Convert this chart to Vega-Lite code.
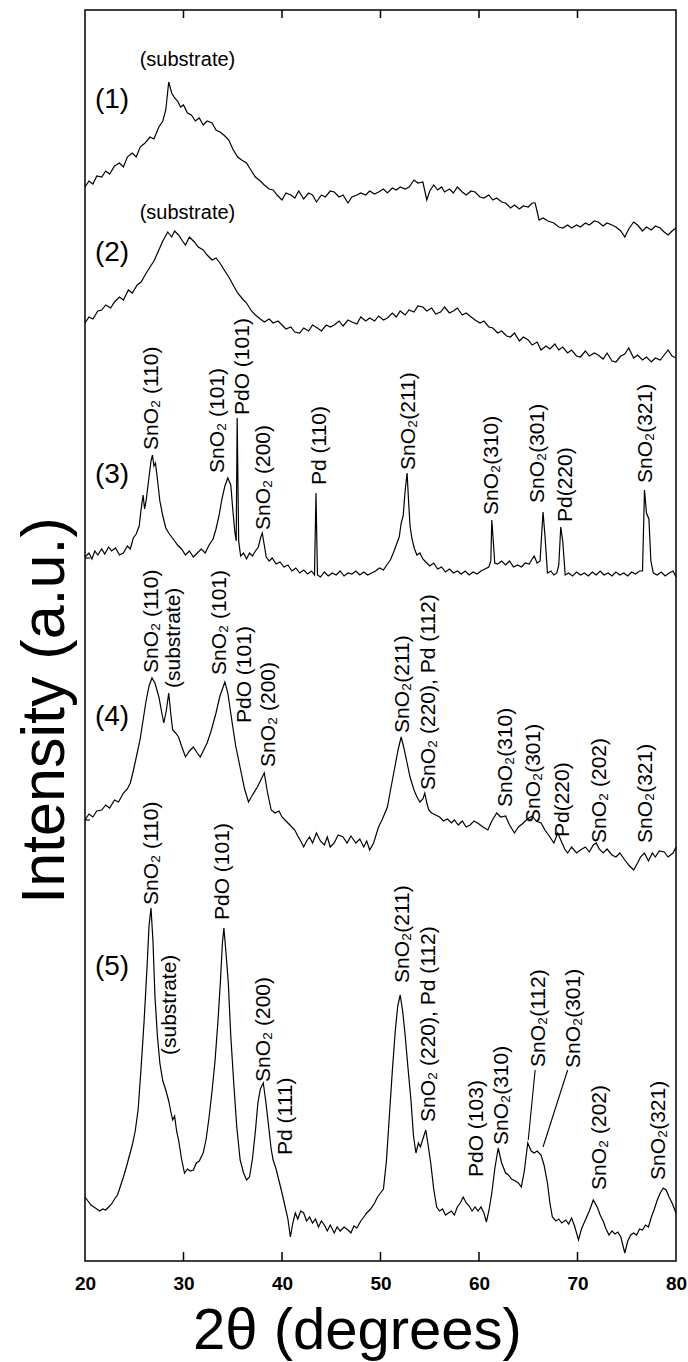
{
  "$schema": "https://vega.github.io/schema/vega-lite/v6.json",
  "width": 591,
  "height": 1251,
  "autosize": {"type": "none"},
  "padding": {"left": 85, "top": 10, "right": 12, "bottom": 101},
  "background": "white",
  "config": {
    "view": {"stroke": "black", "strokeWidth": 1.5},
    "font": "Liberation Sans"
  },
  "datasets": {
    "curves": [
      {"s":1,"x":20.0,"y":1074},{"s":1,"x":20.4,"y":1080},{"s":1,"x":20.8,"y":1077},{"s":1,"x":21.2,"y":1085},{"s":1,"x":21.7,"y":1084},{"s":1,"x":22.1,"y":1090},{"s":1,"x":22.5,"y":1087},{"s":1,"x":23.0,"y":1095},{"s":1,"x":23.5,"y":1098},{"s":1,"x":23.9,"y":1094},{"s":1,"x":24.3,"y":1104},{"s":1,"x":24.8,"y":1108},{"s":1,"x":25.2,"y":1104},{"s":1,"x":25.6,"y":1114},{"s":1,"x":26.1,"y":1118},{"s":1,"x":26.6,"y":1124},{"s":1,"x":27.0,"y":1122},{"s":1,"x":27.5,"y":1134},{"s":1,"x":27.9,"y":1140},{"s":1,"x":28.2,"y":1151},{"s":1,"x":28.5,"y":1179},{"s":1,"x":28.8,"y":1168},{"s":1,"x":29.1,"y":1163},{"s":1,"x":29.4,"y":1160},{"s":1,"x":29.7,"y":1154},{"s":1,"x":30.0,"y":1156},{"s":1,"x":30.4,"y":1148},{"s":1,"x":30.8,"y":1146},{"s":1,"x":31.2,"y":1140},{"s":1,"x":31.6,"y":1143},{"s":1,"x":32.0,"y":1136},{"s":1,"x":32.4,"y":1140},{"s":1,"x":32.9,"y":1138},{"s":1,"x":33.3,"y":1131},{"s":1,"x":33.7,"y":1129},{"s":1,"x":34.1,"y":1126},{"s":1,"x":34.6,"y":1121},{"s":1,"x":35.0,"y":1112},{"s":1,"x":35.5,"y":1104},{"s":1,"x":35.9,"y":1101},{"s":1,"x":36.4,"y":1098},{"s":1,"x":36.9,"y":1090},{"s":1,"x":37.3,"y":1084},{"s":1,"x":37.8,"y":1080},{"s":1,"x":38.2,"y":1076},{"s":1,"x":38.7,"y":1072},{"s":1,"x":39.1,"y":1071},{"s":1,"x":39.5,"y":1066},{"s":1,"x":40.0,"y":1061},{"s":1,"x":40.4,"y":1068},{"s":1,"x":40.9,"y":1066},{"s":1,"x":41.3,"y":1063},{"s":1,"x":41.7,"y":1070},{"s":1,"x":42.2,"y":1062},{"s":1,"x":42.7,"y":1068},{"s":1,"x":43.1,"y":1066},{"s":1,"x":43.5,"y":1059},{"s":1,"x":44.0,"y":1066},{"s":1,"x":44.4,"y":1064},{"s":1,"x":44.9,"y":1070},{"s":1,"x":45.3,"y":1069},{"s":1,"x":45.8,"y":1064},{"s":1,"x":46.2,"y":1066},{"s":1,"x":46.7,"y":1058},{"s":1,"x":47.1,"y":1064},{"s":1,"x":47.6,"y":1066},{"s":1,"x":48.0,"y":1068},{"s":1,"x":48.5,"y":1066},{"s":1,"x":48.9,"y":1070},{"s":1,"x":49.4,"y":1067},{"s":1,"x":49.8,"y":1069},{"s":1,"x":50.3,"y":1072},{"s":1,"x":50.7,"y":1068},{"s":1,"x":51.2,"y":1073},{"s":1,"x":51.6,"y":1071},{"s":1,"x":52.0,"y":1074},{"s":1,"x":52.5,"y":1072},{"s":1,"x":52.9,"y":1074},{"s":1,"x":53.4,"y":1081},{"s":1,"x":53.8,"y":1078},{"s":1,"x":54.3,"y":1079},{"s":1,"x":54.7,"y":1061},{"s":1,"x":55.0,"y":1070},{"s":1,"x":55.4,"y":1076},{"s":1,"x":55.8,"y":1071},{"s":1,"x":56.2,"y":1074},{"s":1,"x":56.5,"y":1069},{"s":1,"x":57.0,"y":1072},{"s":1,"x":57.4,"y":1068},{"s":1,"x":57.8,"y":1074},{"s":1,"x":58.3,"y":1069},{"s":1,"x":58.7,"y":1066},{"s":1,"x":59.2,"y":1070},{"s":1,"x":59.6,"y":1069},{"s":1,"x":60.1,"y":1064},{"s":1,"x":60.5,"y":1063},{"s":1,"x":61.0,"y":1066},{"s":1,"x":61.4,"y":1061},{"s":1,"x":61.8,"y":1063},{"s":1,"x":62.3,"y":1059},{"s":1,"x":62.7,"y":1058},{"s":1,"x":63.2,"y":1053},{"s":1,"x":63.6,"y":1056},{"s":1,"x":64.1,"y":1052},{"s":1,"x":64.5,"y":1055},{"s":1,"x":65.0,"y":1054},{"s":1,"x":65.4,"y":1058},{"s":1,"x":65.7,"y":1058},{"s":1,"x":66.1,"y":1041},{"s":1,"x":66.5,"y":1043},{"s":1,"x":67.0,"y":1040},{"s":1,"x":67.6,"y":1038},{"s":1,"x":68.1,"y":1034},{"s":1,"x":68.5,"y":1033},{"s":1,"x":69.0,"y":1036},{"s":1,"x":69.4,"y":1033},{"s":1,"x":69.9,"y":1036},{"s":1,"x":70.3,"y":1034},{"s":1,"x":70.8,"y":1038},{"s":1,"x":71.2,"y":1036},{"s":1,"x":71.7,"y":1040},{"s":1,"x":72.1,"y":1039},{"s":1,"x":72.6,"y":1035},{"s":1,"x":73.0,"y":1038},{"s":1,"x":73.5,"y":1036},{"s":1,"x":73.9,"y":1034},{"s":1,"x":74.4,"y":1030},{"s":1,"x":74.8,"y":1024},{"s":1,"x":75.2,"y":1032},{"s":1,"x":75.7,"y":1039},{"s":1,"x":76.1,"y":1036},{"s":1,"x":76.6,"y":1030},{"s":1,"x":77.0,"y":1034},{"s":1,"x":77.5,"y":1031},{"s":1,"x":77.9,"y":1035},{"s":1,"x":78.4,"y":1033},{"s":1,"x":78.8,"y":1029},{"s":1,"x":79.2,"y":1026},{"s":1,"x":79.6,"y":1030},{"s":1,"x":80.0,"y":1033},

      {"s":2,"x":20.0,"y":938},{"s":2,"x":20.4,"y":944},{"s":2,"x":20.8,"y":942},{"s":2,"x":21.3,"y":950},{"s":2,"x":21.7,"y":951},{"s":2,"x":22.1,"y":956},{"s":2,"x":22.6,"y":953},{"s":2,"x":23.0,"y":959},{"s":2,"x":23.5,"y":964},{"s":2,"x":23.9,"y":961},{"s":2,"x":24.4,"y":971},{"s":2,"x":24.8,"y":968},{"s":2,"x":25.3,"y":976},{"s":2,"x":25.7,"y":979},{"s":2,"x":26.1,"y":986},{"s":2,"x":26.6,"y":994},{"s":2,"x":27.0,"y":1000},{"s":2,"x":27.5,"y":1011},{"s":2,"x":27.9,"y":1020},{"s":2,"x":28.4,"y":1029},{"s":2,"x":28.8,"y":1024},{"s":2,"x":29.1,"y":1030},{"s":2,"x":29.5,"y":1026},{"s":2,"x":29.9,"y":1020},{"s":2,"x":30.2,"y":1016},{"s":2,"x":30.6,"y":1024},{"s":2,"x":31.1,"y":1019},{"s":2,"x":31.5,"y":1014},{"s":2,"x":32.0,"y":1011},{"s":2,"x":32.4,"y":1006},{"s":2,"x":32.9,"y":1001},{"s":2,"x":33.3,"y":1003},{"s":2,"x":33.7,"y":998},{"s":2,"x":34.2,"y":990},{"s":2,"x":34.6,"y":984},{"s":2,"x":35.1,"y":975},{"s":2,"x":35.5,"y":968},{"s":2,"x":36.0,"y":962},{"s":2,"x":36.4,"y":958},{"s":2,"x":36.9,"y":950},{"s":2,"x":37.3,"y":946},{"s":2,"x":37.8,"y":942},{"s":2,"x":38.2,"y":939},{"s":2,"x":38.7,"y":942},{"s":2,"x":39.1,"y":938},{"s":2,"x":39.6,"y":940},{"s":2,"x":40.0,"y":936},{"s":2,"x":40.4,"y":932},{"s":2,"x":40.9,"y":934},{"s":2,"x":41.3,"y":929},{"s":2,"x":41.8,"y":928},{"s":2,"x":42.2,"y":933},{"s":2,"x":42.7,"y":930},{"s":2,"x":43.1,"y":936},{"s":2,"x":43.6,"y":933},{"s":2,"x":44.0,"y":930},{"s":2,"x":44.5,"y":936},{"s":2,"x":44.9,"y":934},{"s":2,"x":45.3,"y":936},{"s":2,"x":45.8,"y":940},{"s":2,"x":46.2,"y":935},{"s":2,"x":46.7,"y":941},{"s":2,"x":47.1,"y":939},{"s":2,"x":47.6,"y":937},{"s":2,"x":48.0,"y":944},{"s":2,"x":48.5,"y":940},{"s":2,"x":48.9,"y":943},{"s":2,"x":49.4,"y":940},{"s":2,"x":49.8,"y":945},{"s":2,"x":50.3,"y":941},{"s":2,"x":50.7,"y":943},{"s":2,"x":51.2,"y":948},{"s":2,"x":51.6,"y":944},{"s":2,"x":52.0,"y":950},{"s":2,"x":52.5,"y":946},{"s":2,"x":52.9,"y":951},{"s":2,"x":53.4,"y":949},{"s":2,"x":53.8,"y":955},{"s":2,"x":54.3,"y":954},{"s":2,"x":54.7,"y":950},{"s":2,"x":55.2,"y":953},{"s":2,"x":55.6,"y":947},{"s":2,"x":56.1,"y":949},{"s":2,"x":56.5,"y":954},{"s":2,"x":57.0,"y":948},{"s":2,"x":57.4,"y":950},{"s":2,"x":57.8,"y":953},{"s":2,"x":58.3,"y":946},{"s":2,"x":58.7,"y":948},{"s":2,"x":59.2,"y":944},{"s":2,"x":59.6,"y":941},{"s":2,"x":60.1,"y":938},{"s":2,"x":60.5,"y":940},{"s":2,"x":61.0,"y":934},{"s":2,"x":61.4,"y":933},{"s":2,"x":61.9,"y":928},{"s":2,"x":62.3,"y":930},{"s":2,"x":62.8,"y":925},{"s":2,"x":63.2,"y":924},{"s":2,"x":63.6,"y":928},{"s":2,"x":64.1,"y":920},{"s":2,"x":64.5,"y":924},{"s":2,"x":65.0,"y":921},{"s":2,"x":65.4,"y":916},{"s":2,"x":65.9,"y":919},{"s":2,"x":66.3,"y":911},{"s":2,"x":66.8,"y":915},{"s":2,"x":67.2,"y":912},{"s":2,"x":67.7,"y":917},{"s":2,"x":68.1,"y":911},{"s":2,"x":68.5,"y":914},{"s":2,"x":69.0,"y":908},{"s":2,"x":69.4,"y":911},{"s":2,"x":69.9,"y":905},{"s":2,"x":70.3,"y":904},{"s":2,"x":70.8,"y":910},{"s":2,"x":71.2,"y":905},{"s":2,"x":71.7,"y":908},{"s":2,"x":72.1,"y":906},{"s":2,"x":72.6,"y":902},{"s":2,"x":73.0,"y":908},{"s":2,"x":73.5,"y":900},{"s":2,"x":73.9,"y":899},{"s":2,"x":74.4,"y":905},{"s":2,"x":74.8,"y":907},{"s":2,"x":75.2,"y":913},{"s":2,"x":75.7,"y":903},{"s":2,"x":76.1,"y":906},{"s":2,"x":76.6,"y":901},{"s":2,"x":77.0,"y":904},{"s":2,"x":77.5,"y":899},{"s":2,"x":77.9,"y":903},{"s":2,"x":78.4,"y":901},{"s":2,"x":78.8,"y":906},{"s":2,"x":79.2,"y":911},{"s":2,"x":79.6,"y":905},{"s":2,"x":80.0,"y":903},

      {"s":3,"x":20.0,"y":704},{"s":3,"x":20.4,"y":708},{"s":3,"x":20.7,"y":702},{"s":3,"x":21.0,"y":710},{"s":3,"x":21.3,"y":706},{"s":3,"x":21.7,"y":712},{"s":3,"x":22.0,"y":707},{"s":3,"x":22.4,"y":714},{"s":3,"x":22.7,"y":710},{"s":3,"x":23.1,"y":713},{"s":3,"x":23.5,"y":706},{"s":3,"x":23.9,"y":708},{"s":3,"x":24.3,"y":715},{"s":3,"x":24.6,"y":712},{"s":3,"x":24.9,"y":723},{"s":3,"x":25.2,"y":727},{"s":3,"x":25.5,"y":735},{"s":3,"x":25.7,"y":752},{"s":3,"x":25.9,"y":766},{"s":3,"x":26.05,"y":752},{"s":3,"x":26.2,"y":760},{"s":3,"x":26.45,"y":780},{"s":3,"x":26.7,"y":800},{"s":3,"x":26.85,"y":806},{"s":3,"x":27.0,"y":795},{"s":3,"x":27.15,"y":798},{"s":3,"x":27.35,"y":782},{"s":3,"x":27.6,"y":760},{"s":3,"x":27.9,"y":745},{"s":3,"x":28.2,"y":733},{"s":3,"x":28.5,"y":728},{"s":3,"x":28.8,"y":724},{"s":3,"x":29.1,"y":720},{"s":3,"x":29.4,"y":716},{"s":3,"x":29.8,"y":712},{"s":3,"x":30.2,"y":706},{"s":3,"x":30.6,"y":710},{"s":3,"x":31.0,"y":704},{"s":3,"x":31.4,"y":708},{"s":3,"x":31.8,"y":712},{"s":3,"x":32.2,"y":708},{"s":3,"x":32.6,"y":716},{"s":3,"x":33.0,"y":722},{"s":3,"x":33.3,"y":732},{"s":3,"x":33.6,"y":745},{"s":3,"x":33.9,"y":762},{"s":3,"x":34.2,"y":775},{"s":3,"x":34.5,"y":783},{"s":3,"x":34.8,"y":776},{"s":3,"x":35.0,"y":752},{"s":3,"x":35.2,"y":730},{"s":3,"x":35.35,"y":720},{"s":3,"x":35.45,"y":843},{"s":3,"x":35.6,"y":720},{"s":3,"x":35.8,"y":705},{"s":3,"x":36.1,"y":708},{"s":3,"x":36.4,"y":702},{"s":3,"x":36.7,"y":708},{"s":3,"x":37.0,"y":705},{"s":3,"x":37.3,"y":710},{"s":3,"x":37.6,"y":714},{"s":3,"x":37.85,"y":724},{"s":3,"x":38.0,"y":728},{"s":3,"x":38.2,"y":716},{"s":3,"x":38.4,"y":704},{"s":3,"x":38.7,"y":700},{"s":3,"x":39.0,"y":703},{"s":3,"x":39.4,"y":697},{"s":3,"x":39.8,"y":699},{"s":3,"x":40.2,"y":694},{"s":3,"x":40.6,"y":696},{"s":3,"x":41.0,"y":690},{"s":3,"x":41.4,"y":693},{"s":3,"x":41.8,"y":688},{"s":3,"x":42.2,"y":691},{"s":3,"x":42.6,"y":687},{"s":3,"x":43.0,"y":690},{"s":3,"x":43.3,"y":686},{"s":3,"x":43.45,"y":768},{"s":3,"x":43.6,"y":686},{"s":3,"x":43.9,"y":684},{"s":3,"x":44.3,"y":689},{"s":3,"x":44.7,"y":685},{"s":3,"x":45.1,"y":688},{"s":3,"x":45.5,"y":686},{"s":3,"x":45.9,"y":690},{"s":3,"x":46.3,"y":685},{"s":3,"x":46.7,"y":688},{"s":3,"x":47.1,"y":687},{"s":3,"x":47.5,"y":690},{"s":3,"x":47.9,"y":686},{"s":3,"x":48.3,"y":689},{"s":3,"x":48.7,"y":686},{"s":3,"x":49.1,"y":688},{"s":3,"x":49.5,"y":690},{"s":3,"x":49.9,"y":693},{"s":3,"x":50.3,"y":691},{"s":3,"x":50.7,"y":697},{"s":3,"x":51.0,"y":701},{"s":3,"x":51.3,"y":708},{"s":3,"x":51.6,"y":716},{"s":3,"x":51.9,"y":724},{"s":3,"x":52.1,"y":738},{"s":3,"x":52.3,"y":745},{"s":3,"x":52.5,"y":770},{"s":3,"x":52.7,"y":788},{"s":3,"x":52.85,"y":760},{"s":3,"x":53.0,"y":735},{"s":3,"x":53.2,"y":722},{"s":3,"x":53.45,"y":712},{"s":3,"x":53.7,"y":706},{"s":3,"x":54.0,"y":708},{"s":3,"x":54.3,"y":702},{"s":3,"x":54.6,"y":699},{"s":3,"x":55.0,"y":695},{"s":3,"x":55.4,"y":698},{"s":3,"x":55.8,"y":692},{"s":3,"x":56.2,"y":694},{"s":3,"x":56.6,"y":689},{"s":3,"x":57.0,"y":692},{"s":3,"x":57.4,"y":688},{"s":3,"x":57.8,"y":690},{"s":3,"x":58.2,"y":687},{"s":3,"x":58.6,"y":690},{"s":3,"x":59.0,"y":686},{"s":3,"x":59.4,"y":689},{"s":3,"x":59.8,"y":687},{"s":3,"x":60.2,"y":690},{"s":3,"x":60.6,"y":692},{"s":3,"x":61.0,"y":694},{"s":3,"x":61.2,"y":700},{"s":3,"x":61.3,"y":741},{"s":3,"x":61.45,"y":720},{"s":3,"x":61.6,"y":698},{"s":3,"x":61.9,"y":697},{"s":3,"x":62.3,"y":700},{"s":3,"x":62.7,"y":696},{"s":3,"x":63.1,"y":700},{"s":3,"x":63.5,"y":694},{"s":3,"x":63.9,"y":696},{"s":3,"x":64.3,"y":694},{"s":3,"x":64.7,"y":698},{"s":3,"x":65.1,"y":697},{"s":3,"x":65.4,"y":702},{"s":3,"x":65.6,"y":705},{"s":3,"x":65.9,"y":698},{"s":3,"x":66.2,"y":700},{"s":3,"x":66.5,"y":749},{"s":3,"x":66.7,"y":725},{"s":3,"x":66.95,"y":688},{"s":3,"x":67.3,"y":690},{"s":3,"x":67.6,"y":686},{"s":3,"x":67.9,"y":688},{"s":3,"x":68.1,"y":696},{"s":3,"x":68.3,"y":734},{"s":3,"x":68.5,"y":720},{"s":3,"x":68.75,"y":686},{"s":3,"x":69.1,"y":688},{"s":3,"x":69.5,"y":685},{"s":3,"x":69.9,"y":689},{"s":3,"x":70.3,"y":686},{"s":3,"x":70.7,"y":688},{"s":3,"x":71.1,"y":685},{"s":3,"x":71.5,"y":689},{"s":3,"x":71.9,"y":686},{"s":3,"x":72.3,"y":690},{"s":3,"x":72.7,"y":686},{"s":3,"x":73.1,"y":688},{"s":3,"x":73.5,"y":685},{"s":3,"x":73.9,"y":689},{"s":3,"x":74.3,"y":686},{"s":3,"x":74.7,"y":688},{"s":3,"x":75.1,"y":685},{"s":3,"x":75.5,"y":689},{"s":3,"x":75.9,"y":687},{"s":3,"x":76.3,"y":690},{"s":3,"x":76.6,"y":690},{"s":3,"x":76.8,"y":771},{"s":3,"x":77.0,"y":748},{"s":3,"x":77.25,"y":742},{"s":3,"x":77.45,"y":700},{"s":3,"x":77.7,"y":688},{"s":3,"x":78.1,"y":686},{"s":3,"x":78.5,"y":689},{"s":3,"x":78.9,"y":685},{"s":3,"x":79.3,"y":688},{"s":3,"x":79.7,"y":690},{"s":3,"x":80.0,"y":684},

      {"s":4,"x":20.0,"y":441},{"s":4,"x":20.4,"y":447},{"s":4,"x":20.8,"y":444},{"s":4,"x":21.2,"y":450},{"s":4,"x":21.7,"y":451},{"s":4,"x":22.1,"y":456},{"s":4,"x":22.5,"y":453},{"s":4,"x":23.0,"y":461},{"s":4,"x":23.4,"y":459},{"s":4,"x":23.9,"y":468},{"s":4,"x":24.3,"y":472},{"s":4,"x":24.6,"y":478},{"s":4,"x":24.9,"y":490},{"s":4,"x":25.3,"y":508},{"s":4,"x":25.6,"y":522},{"s":4,"x":25.9,"y":541},{"s":4,"x":26.2,"y":560},{"s":4,"x":26.5,"y":575},{"s":4,"x":26.8,"y":583},{"s":4,"x":27.1,"y":578},{"s":4,"x":27.5,"y":564},{"s":4,"x":27.8,"y":548},{"s":4,"x":28.0,"y":538},{"s":4,"x":28.25,"y":550},{"s":4,"x":28.5,"y":568},{"s":4,"x":28.7,"y":548},{"s":4,"x":28.9,"y":531},{"s":4,"x":29.2,"y":528},{"s":4,"x":29.5,"y":524},{"s":4,"x":29.8,"y":515},{"s":4,"x":30.2,"y":504},{"s":4,"x":30.6,"y":510},{"s":4,"x":31.0,"y":514},{"s":4,"x":31.4,"y":508},{"s":4,"x":31.7,"y":504},{"s":4,"x":32.0,"y":510},{"s":4,"x":32.4,"y":518},{"s":4,"x":32.8,"y":530},{"s":4,"x":33.3,"y":548},{"s":4,"x":33.7,"y":565},{"s":4,"x":34.2,"y":579},{"s":4,"x":34.5,"y":568},{"s":4,"x":34.9,"y":541},{"s":4,"x":35.3,"y":515},{"s":4,"x":35.8,"y":491},{"s":4,"x":36.2,"y":472},{"s":4,"x":36.6,"y":459},{"s":4,"x":37.0,"y":466},{"s":4,"x":37.5,"y":474},{"s":4,"x":37.9,"y":482},{"s":4,"x":38.2,"y":488},{"s":4,"x":38.5,"y":470},{"s":4,"x":38.9,"y":451},{"s":4,"x":39.3,"y":448},{"s":4,"x":39.7,"y":450},{"s":4,"x":40.0,"y":444},{"s":4,"x":40.4,"y":440},{"s":4,"x":40.8,"y":436},{"s":4,"x":41.3,"y":431},{"s":4,"x":41.6,"y":425},{"s":4,"x":41.9,"y":420},{"s":4,"x":42.2,"y":414},{"s":4,"x":42.5,"y":420},{"s":4,"x":42.8,"y":424},{"s":4,"x":43.1,"y":418},{"s":4,"x":43.5,"y":428},{"s":4,"x":43.9,"y":420},{"s":4,"x":44.3,"y":416},{"s":4,"x":44.6,"y":424},{"s":4,"x":44.9,"y":414},{"s":4,"x":45.3,"y":418},{"s":4,"x":45.7,"y":426},{"s":4,"x":46.2,"y":424},{"s":4,"x":46.6,"y":418},{"s":4,"x":47.0,"y":425},{"s":4,"x":47.5,"y":418},{"s":4,"x":47.9,"y":422},{"s":4,"x":48.3,"y":414},{"s":4,"x":48.6,"y":420},{"s":4,"x":48.9,"y":411},{"s":4,"x":49.3,"y":418},{"s":4,"x":49.8,"y":434},{"s":4,"x":50.2,"y":442},{"s":4,"x":50.7,"y":454},{"s":4,"x":51.0,"y":470},{"s":4,"x":51.4,"y":491},{"s":4,"x":51.8,"y":512},{"s":4,"x":52.1,"y":524},{"s":4,"x":52.4,"y":512},{"s":4,"x":52.7,"y":498},{"s":4,"x":53.0,"y":484},{"s":4,"x":53.4,"y":471},{"s":4,"x":53.7,"y":464},{"s":4,"x":54.0,"y":459},{"s":4,"x":54.3,"y":462},{"s":4,"x":54.5,"y":468},{"s":4,"x":54.7,"y":458},{"s":4,"x":54.9,"y":451},{"s":4,"x":55.2,"y":448},{"s":4,"x":55.6,"y":446},{"s":4,"x":56.0,"y":444},{"s":4,"x":56.4,"y":440},{"s":4,"x":56.8,"y":442},{"s":4,"x":57.2,"y":438},{"s":4,"x":57.5,"y":441},{"s":4,"x":57.9,"y":436},{"s":4,"x":58.3,"y":440},{"s":4,"x":58.7,"y":434},{"s":4,"x":59.1,"y":436},{"s":4,"x":59.5,"y":440},{"s":4,"x":60.0,"y":437},{"s":4,"x":60.4,"y":434},{"s":4,"x":60.9,"y":431},{"s":4,"x":61.3,"y":440},{"s":4,"x":61.8,"y":448},{"s":4,"x":62.2,"y":444},{"s":4,"x":62.7,"y":445},{"s":4,"x":63.1,"y":436},{"s":4,"x":63.6,"y":428},{"s":4,"x":64.0,"y":434},{"s":4,"x":64.5,"y":438},{"s":4,"x":64.9,"y":442},{"s":4,"x":65.4,"y":445},{"s":4,"x":65.8,"y":440},{"s":4,"x":66.3,"y":438},{"s":4,"x":66.7,"y":431},{"s":4,"x":67.2,"y":424},{"s":4,"x":67.6,"y":418},{"s":4,"x":68.0,"y":428},{"s":4,"x":68.3,"y":421},{"s":4,"x":68.7,"y":412},{"s":4,"x":69.0,"y":408},{"s":4,"x":69.4,"y":414},{"s":4,"x":69.9,"y":408},{"s":4,"x":70.3,"y":411},{"s":4,"x":70.8,"y":414},{"s":4,"x":71.2,"y":409},{"s":4,"x":71.6,"y":416},{"s":4,"x":71.9,"y":418},{"s":4,"x":72.2,"y":412},{"s":4,"x":72.6,"y":408},{"s":4,"x":73.0,"y":412},{"s":4,"x":73.5,"y":406},{"s":4,"x":73.9,"y":404},{"s":4,"x":74.3,"y":408},{"s":4,"x":74.8,"y":401},{"s":4,"x":75.2,"y":396},{"s":4,"x":75.7,"y":391},{"s":4,"x":76.1,"y":398},{"s":4,"x":76.4,"y":404},{"s":4,"x":76.8,"y":408},{"s":4,"x":77.2,"y":400},{"s":4,"x":77.6,"y":408},{"s":4,"x":77.9,"y":404},{"s":4,"x":78.3,"y":410},{"s":4,"x":78.8,"y":409},{"s":4,"x":79.2,"y":404},{"s":4,"x":79.7,"y":408},{"s":4,"x":80.0,"y":414},

      {"s":5,"x":20.0,"y":64},{"s":5,"x":20.3,"y":60},{"s":5,"x":20.6,"y":56},{"s":5,"x":20.9,"y":54},{"s":5,"x":21.2,"y":52},{"s":5,"x":21.5,"y":50},{"s":5,"x":21.8,"y":52},{"s":5,"x":22.1,"y":51},{"s":5,"x":22.4,"y":54},{"s":5,"x":22.7,"y":57},{"s":5,"x":23.0,"y":62},{"s":5,"x":23.3,"y":66},{"s":5,"x":23.6,"y":75},{"s":5,"x":23.9,"y":84},{"s":5,"x":24.2,"y":94},{"s":5,"x":24.5,"y":105},{"s":5,"x":24.8,"y":116},{"s":5,"x":25.1,"y":130},{"s":5,"x":25.4,"y":152},{"s":5,"x":25.7,"y":194},{"s":5,"x":26.0,"y":240},{"s":5,"x":26.3,"y":294},{"s":5,"x":26.5,"y":335},{"s":5,"x":26.7,"y":353},{"s":5,"x":26.9,"y":320},{"s":5,"x":27.1,"y":265},{"s":5,"x":27.35,"y":225},{"s":5,"x":27.6,"y":198},{"s":5,"x":27.9,"y":180},{"s":5,"x":28.2,"y":171},{"s":5,"x":28.5,"y":160},{"s":5,"x":28.7,"y":150},{"s":5,"x":28.9,"y":141},{"s":5,"x":29.1,"y":145},{"s":5,"x":29.3,"y":130},{"s":5,"x":29.5,"y":121},{"s":5,"x":29.8,"y":102},{"s":5,"x":30.1,"y":88},{"s":5,"x":30.4,"y":92},{"s":5,"x":30.7,"y":90},{"s":5,"x":31.0,"y":91},{"s":5,"x":31.3,"y":98},{"s":5,"x":31.6,"y":100},{"s":5,"x":32.0,"y":108},{"s":5,"x":32.3,"y":122},{"s":5,"x":32.6,"y":144},{"s":5,"x":32.9,"y":170},{"s":5,"x":33.2,"y":200},{"s":5,"x":33.5,"y":240},{"s":5,"x":33.75,"y":280},{"s":5,"x":33.95,"y":318},{"s":5,"x":34.1,"y":333},{"s":5,"x":34.3,"y":310},{"s":5,"x":34.55,"y":278},{"s":5,"x":34.8,"y":225},{"s":5,"x":35.1,"y":178},{"s":5,"x":35.4,"y":135},{"s":5,"x":35.75,"y":101},{"s":5,"x":36.1,"y":88},{"s":5,"x":36.4,"y":81},{"s":5,"x":36.7,"y":84},{"s":5,"x":37.0,"y":102},{"s":5,"x":37.3,"y":130},{"s":5,"x":37.55,"y":158},{"s":5,"x":37.8,"y":172},{"s":5,"x":38.1,"y":178},{"s":5,"x":38.35,"y":160},{"s":5,"x":38.65,"y":134},{"s":5,"x":38.9,"y":112},{"s":5,"x":39.1,"y":101},{"s":5,"x":39.4,"y":92},{"s":5,"x":39.7,"y":80},{"s":5,"x":40.0,"y":68},{"s":5,"x":40.3,"y":55},{"s":5,"x":40.6,"y":42},{"s":5,"x":40.85,"y":24},{"s":5,"x":41.1,"y":38},{"s":5,"x":41.35,"y":48},{"s":5,"x":41.6,"y":42},{"s":5,"x":41.9,"y":50},{"s":5,"x":42.2,"y":48},{"s":5,"x":42.5,"y":40},{"s":5,"x":42.8,"y":44},{"s":5,"x":43.1,"y":38},{"s":5,"x":43.4,"y":42},{"s":5,"x":43.7,"y":34},{"s":5,"x":44.0,"y":40},{"s":5,"x":44.3,"y":36},{"s":5,"x":44.6,"y":30},{"s":5,"x":44.9,"y":36},{"s":5,"x":45.3,"y":28},{"s":5,"x":45.6,"y":34},{"s":5,"x":45.9,"y":30},{"s":5,"x":46.3,"y":34},{"s":5,"x":46.7,"y":31},{"s":5,"x":47.0,"y":28},{"s":5,"x":47.3,"y":35},{"s":5,"x":47.6,"y":33},{"s":5,"x":48.0,"y":40},{"s":5,"x":48.3,"y":44},{"s":5,"x":48.6,"y":48},{"s":5,"x":49.0,"y":52},{"s":5,"x":49.4,"y":58},{"s":5,"x":49.7,"y":64},{"s":5,"x":50.0,"y":68},{"s":5,"x":50.3,"y":72},{"s":5,"x":50.6,"y":100},{"s":5,"x":50.9,"y":145},{"s":5,"x":51.2,"y":190},{"s":5,"x":51.5,"y":230},{"s":5,"x":51.75,"y":255},{"s":5,"x":52.0,"y":266},{"s":5,"x":52.25,"y":250},{"s":5,"x":52.5,"y":226},{"s":5,"x":52.8,"y":192},{"s":5,"x":53.1,"y":160},{"s":5,"x":53.35,"y":125},{"s":5,"x":53.6,"y":108},{"s":5,"x":53.85,"y":118},{"s":5,"x":54.05,"y":114},{"s":5,"x":54.3,"y":122},{"s":5,"x":54.6,"y":131},{"s":5,"x":54.85,"y":115},{"s":5,"x":55.1,"y":98},{"s":5,"x":55.4,"y":72},{"s":5,"x":55.7,"y":54},{"s":5,"x":56.0,"y":50},{"s":5,"x":56.3,"y":52},{"s":5,"x":56.6,"y":46},{"s":5,"x":56.9,"y":48},{"s":5,"x":57.2,"y":50},{"s":5,"x":57.5,"y":46},{"s":5,"x":57.8,"y":54},{"s":5,"x":58.1,"y":58},{"s":5,"x":58.4,"y":64},{"s":5,"x":58.7,"y":58},{"s":5,"x":59.0,"y":55},{"s":5,"x":59.3,"y":50},{"s":5,"x":59.6,"y":54},{"s":5,"x":59.9,"y":50},{"s":5,"x":60.2,"y":54},{"s":5,"x":60.5,"y":48},{"s":5,"x":60.75,"y":39},{"s":5,"x":61.0,"y":50},{"s":5,"x":61.3,"y":68},{"s":5,"x":61.6,"y":92},{"s":5,"x":61.95,"y":113},{"s":5,"x":62.3,"y":98},{"s":5,"x":62.7,"y":88},{"s":5,"x":63.0,"y":86},{"s":5,"x":63.3,"y":82},{"s":5,"x":63.7,"y":80},{"s":5,"x":64.0,"y":78},{"s":5,"x":64.3,"y":74},{"s":5,"x":64.6,"y":90},{"s":5,"x":64.95,"y":118},{"s":5,"x":65.3,"y":110},{"s":5,"x":65.6,"y":108},{"s":5,"x":65.9,"y":110},{"s":5,"x":66.3,"y":106},{"s":5,"x":66.6,"y":96},{"s":5,"x":66.95,"y":78},{"s":5,"x":67.2,"y":58},{"s":5,"x":67.45,"y":44},{"s":5,"x":67.8,"y":40},{"s":5,"x":68.1,"y":42},{"s":5,"x":68.4,"y":38},{"s":5,"x":68.8,"y":41},{"s":5,"x":69.1,"y":37},{"s":5,"x":69.4,"y":43},{"s":5,"x":69.7,"y":35},{"s":5,"x":70.1,"y":21},{"s":5,"x":70.4,"y":32},{"s":5,"x":70.8,"y":41},{"s":5,"x":71.2,"y":50},{"s":5,"x":71.6,"y":61},{"s":5,"x":72.0,"y":54},{"s":5,"x":72.3,"y":46},{"s":5,"x":72.6,"y":40},{"s":5,"x":72.9,"y":32},{"s":5,"x":73.2,"y":26},{"s":5,"x":73.5,"y":30},{"s":5,"x":73.8,"y":27},{"s":5,"x":74.1,"y":29},{"s":5,"x":74.4,"y":24},{"s":5,"x":74.8,"y":8},{"s":5,"x":75.1,"y":20},{"s":5,"x":75.4,"y":26},{"s":5,"x":75.7,"y":28},{"s":5,"x":76.0,"y":26},{"s":5,"x":76.3,"y":32},{"s":5,"x":76.6,"y":31},{"s":5,"x":76.9,"y":36},{"s":5,"x":77.2,"y":34},{"s":5,"x":77.5,"y":44},{"s":5,"x":77.8,"y":52},{"s":5,"x":78.1,"y":61},{"s":5,"x":78.4,"y":68},{"s":5,"x":78.7,"y":73},{"s":5,"x":79.0,"y":71},{"s":5,"x":79.3,"y":64},{"s":5,"x":79.6,"y":58},{"s":5,"x":80.0,"y":48}
    ],
    "peaks": [
      {"x":26.8,"y":811,"t":"SnO₂ (110)"},
      {"x":33.5,"y":788,"t":"SnO₂ (101)"},
      {"x":36.0,"y":846,"t":"PdO (101)"},
      {"x":38.2,"y":731,"t":"SnO₂ (200)"},
      {"x":43.9,"y":776,"t":"Pd (110)"},
      {"x":52.9,"y":791,"t":"SnO₂(211)"},
      {"x":61.3,"y":746,"t":"SnO₂(310)"},
      {"x":66.0,"y":758,"t":"SnO₂(301)"},
      {"x":68.8,"y":739,"t":"Pd(220)"},
      {"x":77.0,"y":778,"t":"SnO₂(321)"},
      {"x":26.8,"y":588,"t":"SnO₂ (110)"},
      {"x":29.05,"y":573,"t":"(substrate)"},
      {"x":33.7,"y":586,"t":"SnO₂ (101)"},
      {"x":36.2,"y":538,"t":"PdO (101)"},
      {"x":38.7,"y":494,"t":"SnO₂ (200)"},
      {"x":52.3,"y":528,"t":"SnO₂(211)"},
      {"x":54.9,"y":471,"t":"SnO₂ (220), Pd (112)"},
      {"x":62.7,"y":454,"t":"SnO₂(310)"},
      {"x":65.6,"y":438,"t":"SnO₂(301)"},
      {"x":68.5,"y":424,"t":"Pd(220)"},
      {"x":72.3,"y":418,"t":"SnO₂ (202)"},
      {"x":77.0,"y":418,"t":"SnO₂(321)"},
      {"x":26.8,"y":356,"t":"SnO₂ (110)"},
      {"x":28.6,"y":206,"t":"(substrate)"},
      {"x":34.0,"y":341,"t":"PdO (101)"},
      {"x":38.2,"y":179,"t":"SnO₂ (200)"},
      {"x":40.4,"y":106,"t":"Pd (111)"},
      {"x":52.3,"y":278,"t":"SnO₂(211)"},
      {"x":54.9,"y":139,"t":"SnO₂ (220), Pd (112)"},
      {"x":59.8,"y":84,"t":"PdO (103)"},
      {"x":62.3,"y":116,"t":"SnO₂(310)"},
      {"x":66.1,"y":194,"t":"SnO₂(112)"},
      {"x":69.6,"y":193,"t":"SnO₂(301)"},
      {"x":72.3,"y":71,"t":"SnO₂ (202)"},
      {"x":78.3,"y":81,"t":"SnO₂(321)"}
    ],
    "leaders": [
      {"x":65.7,"y":191,"x2":65.0,"y2":121},
      {"x":69.0,"y":191,"x2":66.5,"y2":114}
    ],
    "substrate": [
      {"x":30.4,"y":1201,"t":"(substrate)"},
      {"x":30.4,"y":1048,"t":"(substrate)"}
    ],
    "tags": [
      {"x":22.74,"y":1161,"t":"(1)"},
      {"x":22.74,"y":1008,"t":"(2)"},
      {"x":22.74,"y":786,"t":"(3)"},
      {"x":22.74,"y":544,"t":"(4)"},
      {"x":22.74,"y":294,"t":"(5)"}
    ],
    "xticks": [{"x":30},{"x":40},{"x":50},{"x":60},{"x":70}],
    "yticks": [{"y":441},{"y":703}]
  },
  "layer": [
    {
      "data": {"name": "curves"},
      "mark": {"type": "line", "color": "black", "strokeWidth": 1.2, "interpolate": "linear"},
      "encoding": {
        "x": {
          "field": "x", "type": "quantitative",
          "scale": {"domain": [20, 80], "nice": false, "zero": false},
          "axis": {
            "orient": "bottom", "values": [20, 30, 40, 50, 60, 70, 80],
            "grid": false, "domain": false, "ticks": false,
            "labelFont": "Liberation Sans", "labelFontWeight": "bold", "labelFontSize": 19, "labelColor": "black",
            "labelPadding": 13, "labelFlush": false,
            "title": "2θ (degrees)", "titleFont": "Liberation Sans", "titleFontWeight": "normal",
            "titleFontSize": 58, "titleColor": "black", "titleX": 272, "titleY": 87,
            "titleBaseline": "alphabetic", "titleAlign": "center", "titleAnchor": null
          }
        },
        "y": {
          "field": "y", "type": "quantitative",
          "scale": {"domain": [0, 1251], "nice": false, "zero": false},
          "axis": {
            "orient": "left", "labels": false, "ticks": false, "grid": false, "domain": false,
            "title": "Intensity (a.u.)", "titleFont": "Liberation Sans", "titleFontWeight": "normal",
            "titleFontSize": 61, "titleColor": "black", "titleAngle": 270, "titleX": -22, "titleY": 700,
            "titleBaseline": "alphabetic", "titleAlign": "center", "titleAnchor": null
          }
        },
        "detail": {"field": "s", "type": "nominal"}
      }
    },
    {
      "data": {"name": "xticks"},
      "mark": {"type": "rule", "color": "black", "strokeWidth": 1.5},
      "encoding": {
        "x": {"field": "x", "type": "quantitative", "axis": null},
        "y": {"datum": 0},
        "y2": {"datum": 9}
      }
    },
    {
      "data": {"name": "xticks"},
      "mark": {"type": "rule", "color": "black", "strokeWidth": 1.5},
      "encoding": {
        "x": {"field": "x", "type": "quantitative", "axis": null},
        "y": {"datum": 1251},
        "y2": {"datum": 1243}
      }
    },
    {
      "data": {"name": "yticks"},
      "mark": {"type": "rule", "color": "black", "strokeWidth": 1.2},
      "encoding": {
        "y": {"field": "y", "type": "quantitative"},
        "x": {"datum": 20, "type": "quantitative", "axis": null},
        "x2": {"datum": 20.5}
      }
    },
    {
      "data": {"name": "leaders"},
      "mark": {"type": "rule", "color": "black", "strokeWidth": 1.1},
      "encoding": {
        "x": {"field": "x", "type": "quantitative", "axis": null},
        "y": {"field": "y", "type": "quantitative"},
        "x2": {"field": "x2"},
        "y2": {"field": "y2"}
      }
    },
    {
      "data": {"name": "peaks"},
      "mark": {"type": "text", "angle": 270, "align": "left", "baseline": "middle", "font": "Liberation Sans", "fontSize": 21, "color": "black"},
      "encoding": {
        "x": {"field": "x", "type": "quantitative", "axis": null},
        "y": {"field": "y", "type": "quantitative"},
        "text": {"field": "t"}
      }
    },
    {
      "data": {"name": "substrate"},
      "mark": {"type": "text", "align": "center", "baseline": "middle", "font": "Liberation Sans", "fontSize": 20, "color": "black"},
      "encoding": {
        "x": {"field": "x", "type": "quantitative", "axis": null},
        "y": {"field": "y", "type": "quantitative"},
        "text": {"field": "t"}
      }
    },
    {
      "data": {"name": "tags"},
      "mark": {"type": "text", "align": "center", "baseline": "middle", "font": "Liberation Sans", "fontSize": 28, "color": "black"},
      "encoding": {
        "x": {"field": "x", "type": "quantitative", "axis": null},
        "y": {"field": "y", "type": "quantitative"},
        "text": {"field": "t"}
      }
    }
  ],
  "resolve": {"axis": {"x": "independent"}}
}
